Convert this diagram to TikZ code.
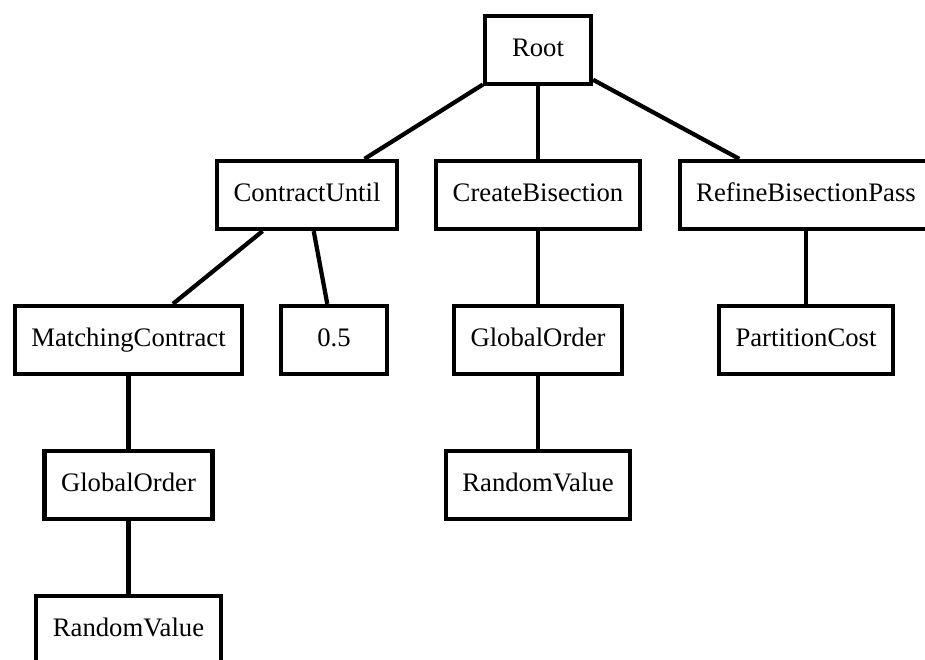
\documentclass[tikz,border=0pt]{standalone}
\usepackage{fontspec}
\setmainfont{Liberation Serif}
\usepackage{tikz}
\usetikzlibrary{positioning}

\tikzset{
  opbox/.style={draw=black, fill=white, line width=0.085cm, inner xsep=0.33cm,
    text height=0.76em, text depth=0.06em,
    minimum width=2.12cm, minimum height=1.36cm, font=\fontsize{15.2}{18}\selectfont},
  link/.style={draw=black, line width=0.085cm}
}

\begin{document}
\begin{tikzpicture}
  \useasboundingbox (0,0) rectangle (18.5,-13.2);

  % Root
  \node[opbox] (root) at (10.76, -1.00) {Root};

  % first level
  \node[opbox] (contract) at (6.14, -3.90) {ContractUntil};
  \node[opbox] (bisect) at (10.76, -3.90) {CreateBisection};
  \node[opbox] (refine) at (16.12, -3.90) {RefineBisectionPass};

  % second level
  \node[opbox] (matching) at (2.57, -6.80) {MatchingContract};
  \node[opbox] (half) at (6.68, -6.80) {0.5};
  \node[opbox] (orderB) at (10.76, -6.80) {GlobalOrder};
  \node[opbox] (cost) at (16.12, -6.80) {PartitionCost};

  % third and fourth level
  \node[opbox] (orderA) at (2.57, -9.70) {GlobalOrder};
  \node[opbox] (randB) at (10.76, -9.70) {RandomValue};
  \node[opbox] (randA) at (2.57, -12.60) {RandomValue};

  % tree edges
  \draw[link] (root) -- (contract);
  \draw[link] (root) -- (bisect);
  \draw[link] (root) -- (refine);
  \draw[link] (contract) -- (matching);
  \draw[link] (contract) -- (half);
  \draw[link] (bisect) -- (orderB);
  \draw[link] (refine) -- (cost);
  \draw[link] (matching) -- (orderA);
  \draw[link] (orderA) -- (randA);
  \draw[link] (orderB) -- (randB);
\end{tikzpicture}
\end{document}
